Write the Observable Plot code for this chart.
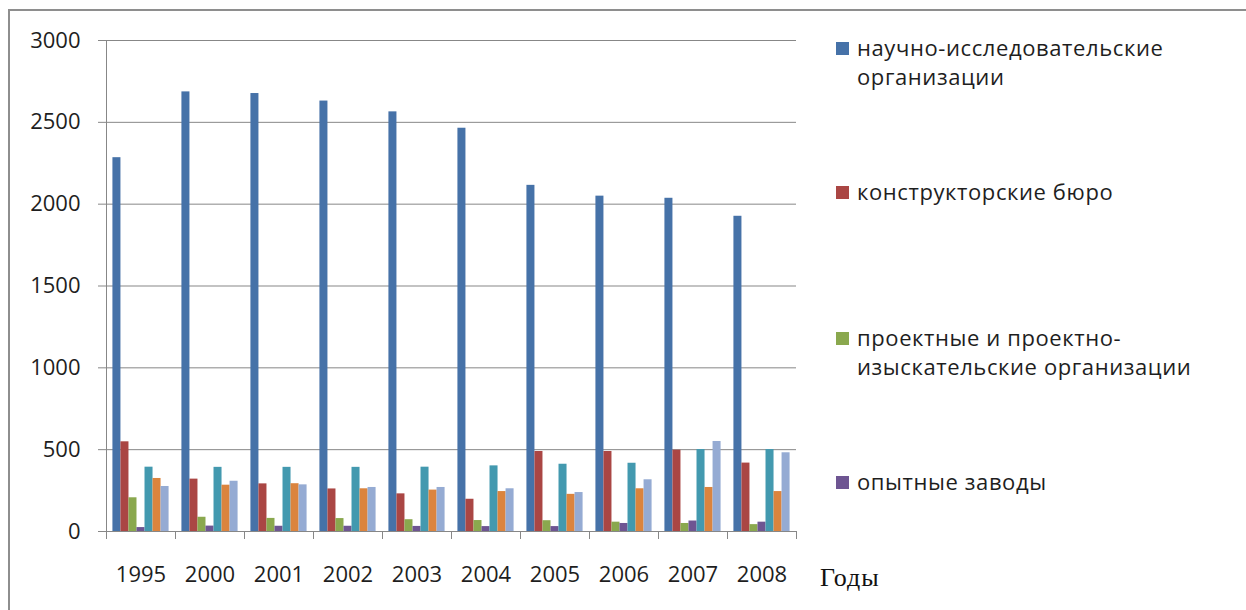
<!DOCTYPE html>
<html>
<head>
<meta charset="utf-8">
<script src="https://cdn.jsdelivr.net/npm/d3@7"></script>
<script src="https://cdn.jsdelivr.net/npm/@observablehq/plot@0.6"></script>
<style>
  html, body { margin: 0; padding: 0; background: #fff; }
  #wrap { position: relative; width: 1246px; height: 610px; overflow: hidden; background: #fff; }
  #chart { position: absolute; left: 0; top: 0; }
  #frame { position: absolute; left: 8px; top: 9px; width: 1400px; height: 800px;
           border-left: 2px solid #8e8e8e; border-top: 2px solid #8e8e8e; pointer-events: none; }
  .leg { position: absolute; left: 857px; font-family: "Open Sans", sans-serif; font-size: 22px;
         line-height: 29px; color: #1e1e1e; white-space: nowrap; letter-spacing: 0.6px; }
  .sw { position: absolute; left: 836px; width: 13px; height: 13px; }
  #xt { position: absolute; left: 820px; top: 565px; font-family: "Liberation Serif", "Times New Roman", serif;
        font-size: 26px; line-height: 26px; color: #111; letter-spacing: 1px; }
</style>
</head>
<body>
<div id="wrap">
  <div id="chart"></div>
  <div id="frame"></div>
  <div id="legend"></div>
  <div id="xt">Годы</div>
</div>
<script>
// ---- data ----
const years = ["1995", "2000", "2001", "2002", "2003", "2004", "2005", "2006", "2007", "2008"];
const seriesNames = [
  "научно-исследовательские организации",
  "конструкторские бюро",
  "проектные и проектно-изыскательские организации",
  "опытные заводы",
  "образовательные учреждения высшего профессионального образования",
  "промышленные организации",
  "прочие"
];
const legendLines = [
  ["научно-исследовательские", "организации"],
  ["конструкторские бюро"],
  ["проектные и проектно-", "изыскательские организации"],
  ["опытные заводы"]
];
const seriesColors = ["#4672a8", "#aa4644", "#8aa84e", "#6e5592", "#4399af", "#db843e", "#95abd3"];
const nioValues    = [2284, 2686, 2676, 2630, 2564, 2464, 2115, 2049, 2036, 1926];
const kbValues     = [548, 320, 291, 260, 230, 197, 489, 489, 497, 418];
const projValues   = [206, 87, 80, 79, 72, 67, 66, 57, 49, 42];
const zavodValues  = [24, 33, 32, 32, 31, 30, 30, 49, 64, 57];
const vuzValues    = [393, 392, 392, 392, 393, 401, 411, 417, 501, 501];
const promValues   = [324, 283, 292, 261, 253, 244, 227, 261, 269, 244];
const prochValues  = [275, 307, 285, 269, 269, 261, 238, 316, 550, 481];
const yTicks = [0, 500, 1000, 1500, 2000, 2500, 3000];

const allValues = [nioValues, kbValues, projValues, zavodValues, vuzValues, promValues, prochValues];
const data = years.flatMap((yr, j) => seriesNames.map((s, i) => ({ year: yr, series: s, idx: i, value: allValues[i][j] })));

const pad = 0.8; // outer padding of each year group, in bar widths
const gridColor = "#878787";

const chart = Plot.plot({
  width: 1246,
  height: 610,
  marginLeft: 105,
  marginRight: 450,
  marginTop: 40,
  marginBottom: 79,
  style: { fontFamily: "'Open Sans', sans-serif", background: "transparent", color: "#1e1e1e" },
  fx: { domain: years, padding: 0, label: null, axis: null },
  x: { domain: [0, seriesNames.length + 2 * pad], axis: null },
  y: { domain: [0, 3000], label: null, axis: null },
  color: { domain: seriesNames, range: seriesColors },
  marks: [
    Plot.gridY(yTicks, { stroke: gridColor, strokeOpacity: 1, strokeWidth: 1 }),
    Plot.rect(data, {
      fx: "year",
      x1: d => d.idx + pad,
      x2: d => d.idx + pad + 1,
      y1: 0,
      y2: "value",
      fill: "series"
    }),
    Plot.axisX([0, seriesNames.length + 2 * pad], {
      anchor: "bottom", tickSize: 8, tickFormat: () => "", stroke: gridColor, label: null
    }),
    Plot.ruleX([{ year: years[0] }], { fx: "year", x: () => 0, stroke: gridColor }),
    Plot.axisY(yTicks, {
      anchor: "left", tickSize: 8, tickPadding: 18, fontSize: 22, stroke: gridColor, fill: "#1e1e1e",
      tickFormat: d3.format("d"), label: null
    }),
    Plot.axisFx({ anchor: "bottom", tickSize: 0, tickPadding: 35, fontSize: 22, fill: "#1e1e1e", label: null })
  ]
});
document.getElementById("chart").appendChild(chart);

// ---- legend (first four entries visible, as in the reference) ----
const legendTops = [33, 177, 323, 467];
const legendEl = document.getElementById("legend");
legendLines.forEach((lines, i) => {
  const sw = document.createElement("div");
  sw.className = "sw";
  sw.style.top = (legendTops[i] + 9) + "px";
  sw.style.background = seriesColors[i];
  legendEl.appendChild(sw);
  const t = document.createElement("div");
  t.className = "leg";
  t.style.top = legendTops[i] + "px";
  t.innerHTML = lines.join("<br>");
  legendEl.appendChild(t);
});
</script>
</body>
</html>
